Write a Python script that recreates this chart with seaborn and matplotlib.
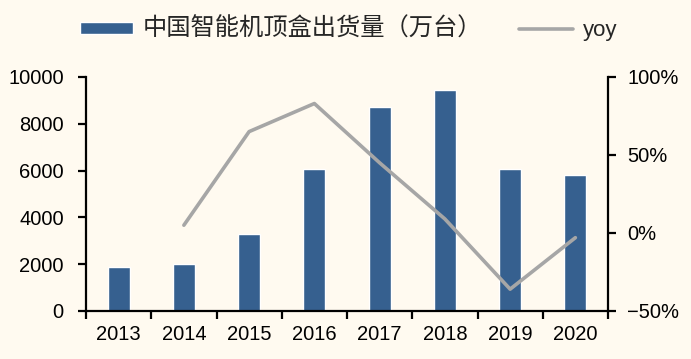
import matplotlib
matplotlib.use("Agg")
import matplotlib.pyplot as plt
import seaborn as sns
import pandas as pd
from matplotlib.ticker import FixedLocator, FuncFormatter

years = ["2013", "2014", "2015", "2016", "2017", "2018", "2019", "2020"]
shipments = [1900, 2000, 3300, 6050, 8700, 9450, 6050, 5800]
yoy_years = ["2014", "2015", "2016", "2017", "2018", "2019", "2020"]
yoy = [5, 65, 83, 45, 9, -36, -3]

bar_label = "中国智能机顶盒出货量（万台）"
line_label = "yoy"

bg = "#FFFAF0"
bar_color = "#36608F"
line_color = "#A6A6A6"

sns.set_theme(style="white")
plt.rcParams["font.family"] = ["Liberation Sans", "Noto Sans CJK SC", "DejaVu Sans"]

df_bar = pd.DataFrame({"year": years, "value": shipments})
df_line = pd.DataFrame({"year": yoy_years, "yoy": yoy})
df_line["pos"] = [years.index(y) for y in yoy_years]

fig = plt.figure(figsize=(6.91, 3.59), dpi=100, facecolor=bg)
W, H = 691, 359
ax = fig.add_axes([86 / W, (H - 311) / H, (608 - 86) / W, (311 - 77) / H])
ax.set_facecolor(bg)

sns.barplot(data=df_bar, x="year", y="value", color=bar_color, width=0.34,
            saturation=1, ax=ax, label=bar_label)
ax.set_ylim(0, 10000)
ax.set_xlim(-0.5, len(years) - 0.5)
ax.set_yticks([0, 2000, 4000, 6000, 8000, 10000])
ax.set_xlabel("")
ax.set_ylabel("")
if ax.get_legend() is not None:
    ax.get_legend().remove()

ax2 = ax.twinx()
sns.lineplot(data=df_line, x="pos", y="yoy", color=line_color, linewidth=2.6,
             ax=ax2, label=line_label, legend=False)
ax2.set_ylim(-50, 100)
ax2.set_yticks([-50, 0, 50, 100])
ax2.yaxis.set_major_formatter(FuncFormatter(lambda v, p: f"{int(v)}%".replace("-", "\u2212")))
ax2.set_xlim(-0.5, len(years) - 0.5)
ax2.set_xlabel("")
ax2.set_ylabel("")
if ax2.get_legend() is not None:
    ax2.get_legend().remove()

for a in (ax, ax2):
    for s in a.spines.values():
        s.set_visible(False)
ax.spines["left"].set_visible(True)
ax.spines["bottom"].set_visible(True)
ax2.spines["right"].set_visible(True)
for s in (ax.spines["left"], ax.spines["bottom"], ax2.spines["right"]):
    s.set_color("black")
    s.set_linewidth(1.6)

fs = 14.5
ax.set_xticks(range(len(years)))
ax.set_xticklabels(years)
ax.xaxis.set_minor_locator(FixedLocator([i - 0.5 for i in range(len(years) + 1)]))
ax.tick_params(axis="x", which="major", length=0, pad=10, labelsize=fs, colors="black")
ax.tick_params(axis="x", which="minor", length=6, width=1.6, direction="out", color="black", bottom=True)
ax.tick_params(axis="y", which="major", left=True, length=6, width=1.6, direction="out",
               pad=10, labelsize=fs, colors="black")
ax2.tick_params(axis="y", which="major", right=True, length=6, width=1.6, direction="out",
                pad=8, labelsize=fs, colors="black")

h1, l1 = ax.get_legend_handles_labels()
h2, l2 = ax2.get_legend_handles_labels()
leg = fig.legend(h1 + h2, l1 + l2, loc="center", bbox_to_anchor=(0.5 + 3 / W, 1 - 29 / H),
                 ncol=2, frameon=False, fontsize=16, handlelength=2.4, handleheight=0.45,
                 handletextpad=0.45, columnspacing=1.65)
leg.get_texts()[0].set_fontsize(17.5)

fig.savefig("out.png", dpi=100, facecolor=bg)
